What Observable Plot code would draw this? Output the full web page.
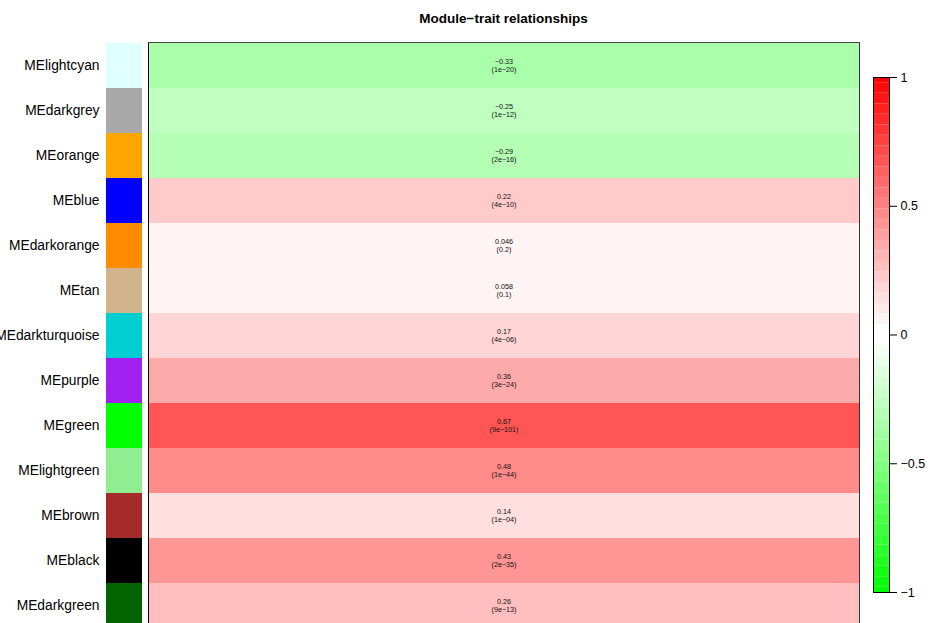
<!DOCTYPE html>
<html><head><meta charset="utf-8">
<script src="https://cdn.jsdelivr.net/npm/d3@7"></script>
<script src="https://cdn.jsdelivr.net/npm/@observablehq/plot@0.6"></script>
<style>
body{margin:0;background:#fff;}
#wrap{position:relative;width:928px;height:623px;overflow:hidden;font-family:"Liberation Sans",Arial,Helvetica,sans-serif;}
#wrap > svg{position:absolute;left:0;top:0;}
#title{position:absolute;left:148px;width:711px;top:11px;text-align:center;font-weight:bold;font-size:13.5px;line-height:16px;color:#000;}
</style></head><body><div id="wrap"><div id="title">Module−trait relationships</div></div>
<script>
const modules = ["MElightcyan","MEdarkgrey","MEorange","MEblue","MEdarkorange","MEtan","MEdarkturquoise","MEpurple","MEgreen","MElightgreen","MEbrown","MEblack","MEdarkgreen"];
const moduleColors = ["#E0FFFF","#A9A9A9","#FFA500","#0000FF","#FF8C00","#D2B48C","#00CED1","#A020F0","#00FF00","#90EE90","#A52A2A","#000000","#006400"];
const correlations = [-0.33,-0.25,-0.29,0.22,0.046,0.058,0.17,0.36,0.67,0.48,0.14,0.43,0.26];
const pvalues = ["1e−20","1e−12","2e−16","4e−10","0.2","0.1","4e−06","3e−24","9e−101","1e−44","1e−04","2e−35","9e−13"];
const colorbarTicks = [-1,-0.5,0,0.5,1];

const rows = modules.map((m,i)=>({module:m, color:moduleColors[i], cor:correlations[i], p:pvalues[i]}));

// greenWhiteRed(50) palette, values mapped to nearest palette index on [-1, 1]
const nCol = 50, half = 25;
const steps = d3.range(half).map(i => i/(half-1));
const palette = [
  ...steps.map(t => d3.rgb(Math.round(t*255), 255, Math.round(t*255)).formatHex()),
  ...steps.map(t => d3.rgb(255, Math.round((1-t)*255), Math.round((1-t)*255)).formatHex())
];
const breaks = d3.range(nCol - 1).map(k => +((2*(k+0.5))/(nCol-1) - 1).toFixed(5));
const colorScale = {type:"threshold", domain:breaks, range:palette};
const edges = [-1, ...breaks, 1];
const bins = d3.range(nCol).map(i => ({lo:edges[i], hi:edges[i+1], mid:(edges[i]+edges[i+1])/2}));

const yRange = [42.3, 628.4];
const fmt = v => String(v).replace("-", "−");
const font = '"Liberation Sans",Arial,Helvetica,sans-serif';
const wrap = document.getElementById("wrap");

// Heatmap
const heat = Plot.plot({
  width:928, height:623,
  marginLeft:148, marginRight:69, marginTop:42, marginBottom:0,
  style:{background:"transparent", fontFamily:font},
  x:{axis:null, domain:["Trait"], padding:0},
  y:{axis:null, domain:modules, range:yRange, padding:0},
  color:colorScale,
  marks:[
    Plot.cell(rows, {x:() => "Trait", y:"module", fill:"cor", inset:0}),
    Plot.text(rows, {x:() => "Trait", y:"module", text:d => fmt(d.cor), dy:-4, fontSize:7.2, fill:"#111"}),
    Plot.text(rows, {x:() => "Trait", y:"module", text:d => "(" + d.p + ")", dy:4, fontSize:7.2, fill:"#111"}),
    Plot.frame({anchor:"left", stroke:"#000"}),
    Plot.frame({anchor:"right", stroke:"#333"}),
    Plot.frame({anchor:"top", stroke:"#444"})
  ]
});
wrap.appendChild(heat);

// Module colour swatches + labels
const sw = Plot.plot({
  width:928, height:623,
  marginLeft:106, marginRight:928-142, marginTop:42, marginBottom:0,
  style:{background:"transparent", fontFamily:font, fontSize:"13.8px", color:"#000"},
  x:{axis:null, domain:["swatch"], padding:0},
  y:{domain:modules, range:yRange, padding:0, tickSize:0, tickPadding:7, label:null},
  color:{type:"identity"},
  marks:[
    Plot.cell(rows, {x:() => "swatch", y:"module", fill:"color", inset:0})
  ]
});
wrap.appendChild(sw);

// Colour bar
const cb = Plot.plot({
  width:928, height:623,
  marginLeft:873, marginRight:928-889, marginTop:77, marginBottom:623-592,
  style:{background:"transparent", fontFamily:font, fontSize:"12.5px", color:"#000"},
  x:{axis:null, domain:[0,1]},
  y:{domain:[-1,1], axis:"right", ticks:colorbarTicks, tickFormat:d => fmt(d), tickSize:7, tickPadding:4, label:null},
  color:colorScale,
  marks:[
    Plot.rect(bins, {y1:"lo", y2:"hi", fill:"mid"}),
    Plot.frame({stroke:"#000"})
  ]
});
wrap.appendChild(cb);
</script>
</body></html>
